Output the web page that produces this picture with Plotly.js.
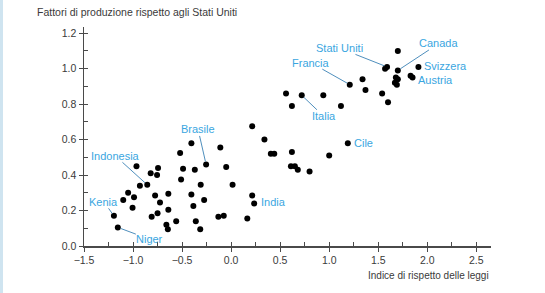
<!DOCTYPE html>
<html>
<head>
<meta charset="utf-8">
<script src="https://cdn.plot.ly/plotly-3.0.1.min.js"></script>
<style>
html,body{margin:0;padding:0;background:#fff;}
#stripe{position:absolute;left:0;top:0;width:3px;height:293px;background:#cfe4f0;z-index:5;}
#chart{width:545px;height:293px;}
</style>
</head>
<body>
<div id="stripe"></div>
<div id="chart"></div>
<script>
// Indice di rispetto delle leggi (x) and Fattori di produzione rispetto agli Stati Uniti (y)
const lawIndex = [
  -1.195, -1.155, -1.10, -1.05, -1.005, -0.99, -0.965, -0.93, -0.855, -0.82,
  -0.81, -0.775, -0.755, -0.745, -0.75, -0.725, -0.66, -0.645, -0.64, -0.64,
  -0.56, -0.52, -0.51, -0.49, -0.405, -0.405, -0.385, -0.37, -0.36, -0.315,
  -0.31, -0.275, -0.255, -0.11, -0.13, -0.075, -0.05, 0.015, 0.165, 0.215,
  0.215, 0.235, 0.34, 0.405, 0.44, 0.62, 0.61, 0.65, 0.68, 0.80,
  1.00, 1.19, 0.56, 0.72, 0.94, 0.62, 1.12, 1.21, 1.34, 1.37,
  1.54, 1.60, 1.57, 1.59, 1.70, 1.70, 1.91, 1.83, 1.85, 1.68,
  1.70, 1.67, 1.69
];
const inputs = [
  0.17, 0.105, 0.26, 0.30, 0.215, 0.275, 0.45, 0.34, 0.345, 0.41,
  0.165, 0.285, 0.40, 0.44, 0.185, 0.245, 0.12, 0.095, 0.295, 0.205,
  0.14, 0.525, 0.375, 0.435, 0.58, 0.29, 0.225, 0.43, 0.14, 0.095,
  0.345, 0.26, 0.46, 0.555, 0.165, 0.17, 0.445, 0.345, 0.155, 0.675,
  0.285, 0.24, 0.60, 0.52, 0.52, 0.53, 0.45, 0.45, 0.43, 0.42,
  0.51, 0.58, 0.86, 0.85, 0.85, 0.79, 0.79, 0.91, 0.94, 0.88,
  0.86, 0.81, 1.00, 1.01, 1.10, 0.99, 1.01, 0.96, 0.95, 0.95,
  0.94, 0.92, 0.91
];
// Labelled countries (index into the arrays above)
const labelNames = ["Kenia","Niger","Indonesia","Brasile","India","Cile","Italia","Francia","Stati Uniti","Canada","Svizzera","Austria"];
const labelIdx   = [0, 1, 8, 32, 41, 51, 53, 57, 63, 65, 66, 68];

const xTickVals = [-1.5,-1.0,-0.5,0.0,0.5,1.0,1.5,2.0,2.5];
const xTickText = ["\u22121.5","\u22121.0","\u22120.5","0.0","0.5","1.0","1.5","2.0","2.5"];
const yTickVals = [0,0.2,0.4,0.6,0.8,1.0,1.2];
const yTickText = ["0.0","0.2","0.4","0.6","0.8","1.0","1.2"];

const FONT = "Liberation Sans Narrow, Arial Narrow, Liberation Sans, Arial, sans-serif";
const LBL = "#3aa6df", LINE = "#4f8fbd", AX = "#4a4a4a";

// label placement: [ax, ay, arrow?]
const place = {
  "Kenia":[-10,-14,true], "Niger":[32,12,true], "Indonesia":[-32,-29,true],
  "Brasile":[-8,-35,true], "Italia":[22,21,true], "Francia":[-39,-22,true],
  "Stati Uniti":[-48,-19,true], "Canada":[41,-27,true],
  "India":[5,1,false], "Cile":[4,0,false], "Svizzera":[4,1,false], "Austria":[3,-2,false]
};

const annotations = labelNames.map((n,k)=>{
  const i = labelIdx[k], p = place[n];
  const a = {x: lawIndex[i], y: inputs[i], xref:"x", yref:"y", text:n,
    font:{family:FONT, size:11, color:LBL}};
  if (p[2]) {
    Object.assign(a,{showarrow:true, ax:p[0], ay:p[1], arrowhead:0, arrowwidth:1,
      arrowcolor:LINE, standoff:3, startstandoff:0, borderpad:0});
  } else {
    Object.assign(a,{showarrow:false, xanchor:"left", xshift:p[0], yshift:p[1]});
  }
  return a;
});
annotations.push({xref:"paper", yref:"paper", x:-0.12, y:1.0, yshift:15, xanchor:"left", yanchor:"middle",
  text:"Fattori di produzione rispetto agli Stati Uniti", showarrow:false,
  font:{family:FONT, size:10.5, color:"#3a3a3a"}});
annotations.push({xref:"paper", yref:"paper", x:1.0, y:0, yshift:-29, xanchor:"right", yanchor:"middle",
  text:"Indice di rispetto delle leggi", showarrow:false,
  font:{family:FONT, size:10, color:"#3a3a3a"}});

const trace = {x: lawIndex, y: inputs, mode:"markers", type:"scatter",
  marker:{color:"#000", size:6}, hoverinfo:"skip", cliponaxis:false};

const layout = {
  width:545, height:293,
  margin:{l:84, r:54, t:27, b:47},
  paper_bgcolor:"#fff", plot_bgcolor:"#fff",
  showlegend:false,
  font:{family:FONT, size:10.5, color:"#3a3a3a"},
  xaxis:{range:[-1.5,2.65], tickvals:xTickVals, ticktext:xTickText,
    ticks:"outside", ticklen:4, tickwidth:1, tickcolor:AX,
    showline:true, linecolor:AX, linewidth:1.5, showgrid:false, zeroline:false,
    tickfont:{family:FONT, size:10.5, color:"#3a3a3a"}, fixedrange:true},
  xaxis2:{matches:"x", overlaying:"x", range:[-1.5,2.65], dtick:0.25, tick0:-1.5,
    ticks:"inside", ticklen:4, tickwidth:1, tickcolor:AX, showticklabels:false,
    showline:false, showgrid:false, zeroline:false, anchor:"y"},
  yaxis:{range:[0,1.235], tickvals:yTickVals, ticktext:yTickText,
    ticks:"outside", ticklen:4, tickwidth:1, tickcolor:AX,
    showline:true, linecolor:AX, linewidth:1.5, showgrid:false, zeroline:false,
    tickfont:{family:FONT, size:10.5, color:"#3a3a3a"}, fixedrange:true},
  yaxis2:{matches:"y", overlaying:"y", range:[0,1.235], dtick:0.1, tick0:0,
    ticks:"inside", ticklen:4, tickwidth:1, tickcolor:AX, showticklabels:false,
    showline:false, showgrid:false, zeroline:false, anchor:"x"},
  annotations: annotations
};

// invisible helper trace to activate the overlay tick axes
const helper = {x:[lawIndex[0]], y:[inputs[0]], xaxis:"x2", yaxis:"y2", mode:"markers",
  marker:{opacity:0}, hoverinfo:"skip", type:"scatter"};

Plotly.newPlot("chart", [helper, trace], layout, {staticPlot:true, displayModeBar:false});
</script>
</body>
</html>
